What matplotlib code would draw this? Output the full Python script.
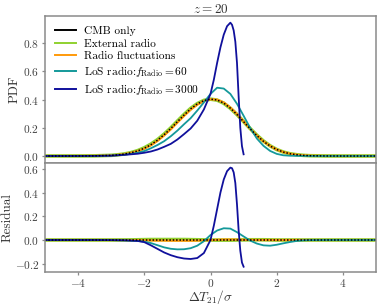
import numpy as np
import matplotlib
matplotlib.use("Agg")
import matplotlib.pyplot as plt
from matplotlib.lines import Line2D

plt.rcParams['font.family'] = 'serif'
plt.rcParams['font.serif'] = ['cmr10', 'DejaVu Serif']
plt.rcParams['mathtext.fontset'] = 'cm'
plt.rcParams['axes.formatter.use_mathtext'] = True

# valeurs
x = [-5, -4.5, -4, -3.5, -3.0, -2.8, -2.6, -2.4, -2.2, -2.0, -1.8, -1.6, -1.4, -1.2,
     -1.0, -0.8, -0.6, -0.4, -0.2, 0.0, 0.2, 0.4, 0.6, 0.8, 1.0, 1.2, 1.4, 1.6,
     1.8, 2.0, 2.2, 2.4, 2.6, 2.8, 3.0, 3.5, 4, 4.5, 5]

pdf_cmb = [0.0, 0.0001, 0.0003, 0.001, 0.0045, 0.008, 0.014, 0.023, 0.036, 0.055, 0.08,
           0.112, 0.151, 0.195, 0.243, 0.29, 0.334, 0.369, 0.393, 0.403, 0.397, 0.375,
           0.339, 0.294, 0.243, 0.192, 0.145, 0.104, 0.071, 0.046, 0.028, 0.016, 0.009,
           0.0045, 0.002, 0.0003, 0.0, 0.0, 0.0]
pdf_ext = [0.0, 0.0001, 0.0003, 0.001, 0.0046, 0.0083, 0.0145, 0.024, 0.038, 0.058, 0.084,
           0.116, 0.155, 0.199, 0.247, 0.294, 0.337, 0.371, 0.394, 0.403, 0.396, 0.374,
           0.338, 0.294, 0.244, 0.194, 0.147, 0.106, 0.072, 0.046, 0.028, 0.016, 0.009,
           0.0045, 0.002, 0.0003, 0.0, 0.0, 0.0]
pdf_fluc = [0.0, 0.0001, 0.0003, 0.001, 0.0044, 0.0078, 0.0135, 0.022, 0.034, 0.052, 0.076,
            0.107, 0.146, 0.189, 0.237, 0.284, 0.328, 0.364, 0.39, 0.402, 0.399, 0.379,
            0.343, 0.297, 0.245, 0.193, 0.145, 0.104, 0.071, 0.046, 0.028, 0.016, 0.009,
            0.0045, 0.002, 0.0003, 0.0, 0.0, 0.0]
pdf_los60 = [0.0, 0.0001, 0.0003, 0.001, 0.003, 0.006, 0.01, 0.015, 0.023, 0.035, 0.055,
             0.078, 0.105, 0.14, 0.18, 0.225, 0.268, 0.322, 0.38, 0.44, 0.484, 0.478,
             0.44, 0.37, 0.285, 0.198, 0.124, 0.072, 0.036, 0.015, 0.005, 0.002, 0.001,
             0.0005, 0.0, 0.0, 0.0, 0.0, 0.0]

res_ext = [0.0, 0.0, 0.0, 0.0, 0.0001, 0.0003, 0.0005, 0.001, 0.002, 0.003, 0.004,
           0.004, 0.004, 0.004, 0.004, 0.004, 0.003, 0.002, 0.001, 0.0, -0.001, -0.001,
           -0.001, 0.0, 0.001, 0.002, 0.002, 0.002, 0.001, 0.0, 0.0, 0.0, 0.0,
           0.0, 0.0, 0.0, 0.0, 0.0, 0.0]
res_fluc = [0.0, 0.0, 0.0, 0.0, -0.0001, -0.0002, -0.0005, -0.001, -0.002, -0.003, -0.004,
            -0.005, -0.005, -0.006, -0.006, -0.006, -0.006, -0.005, -0.003, -0.001, 0.002, 0.004,
            0.004, 0.003, 0.002, 0.001, 0.0, 0.0, 0.0, 0.0, 0.0, 0.0, 0.0,
            0.0, 0.0, 0.0, 0.0, 0.0, 0.0]
res_los60 = [0.0, 0.0, 0.0, 0.0, -0.001, -0.002, -0.003, -0.005, -0.008, -0.014, -0.026,
             -0.044, -0.062, -0.074, -0.079, -0.078, -0.069, -0.048, -0.01, 0.042, 0.08, 0.099,
             0.096, 0.066, 0.03, -0.005, -0.03, -0.045, -0.048, -0.04, -0.028, -0.017, -0.008,
             -0.003, -0.001, 0.0, 0.0, 0.0, 0.0]

# la courbe f_Radio = 3000 s'arrête vers 1
x_b = [-5, -4, -3.5, -3.0, -2.6, -2.2, -2.0, -1.8, -1.6, -1.4, -1.2, -1.0, -0.8, -0.6,
       -0.4, -0.2, 0.0, 0.1, 0.2, 0.3, 0.4, 0.5, 0.6, 0.65, 0.7, 0.75, 0.8, 0.85,
       0.9, 0.95, 1.0]
pdf_los3000 = [0.0, 0.0, 0.0005, 0.002, 0.008, 0.016, 0.023, 0.032, 0.046, 0.065, 0.086,
               0.117, 0.155, 0.195, 0.25, 0.33, 0.44, 0.54, 0.66, 0.77, 0.86, 0.92,
               0.945, 0.93, 0.89, 0.81, 0.66, 0.42, 0.2, 0.07, 0.012]
res_los3000 = [0.0, 0.0, 0.0, -0.001, -0.003, -0.008, -0.018, -0.045, -0.075, -0.105, -0.128,
               -0.145, -0.156, -0.16, -0.152, -0.11, 0.0, 0.12, 0.26, 0.4, 0.51, 0.58,
               0.61, 0.605, 0.57, 0.48, 0.3, 0.08, -0.09, -0.19, -0.225]

res_cmb = [0.0] * len(x)

c_ext = '#8fd12f'
c_fluc = '#ff9a0a'
c_60 = '#14999a'
c_3000 = '#10109c'
gris = '#8a8a8a'
texte = '#333333'

fig, (ax1, ax2) = plt.subplots(2, 1, figsize=(3.81, 3.08), dpi=100, sharex=True,
                               gridspec_kw={'height_ratios': [148, 110], 'hspace': 0})
fig.subplots_adjust(left=0.118, right=0.987, top=0.948, bottom=0.118)

ax1.plot(x, pdf_ext, color=c_ext, lw=2.6)
ax1.plot(x, pdf_fluc, color=c_fluc, lw=1.6)
ax1.plot(x, pdf_los60, color=c_60, lw=1.3)
ax1.plot(x_b, pdf_los3000, color=c_3000, lw=1.3)
ax1.plot(x, pdf_cmb, color='k', lw=1.1, ls=(0, (1, 1.2)))

ax2.plot(x, res_ext, color=c_ext, lw=2.6)
ax2.plot(x, res_fluc, color=c_fluc, lw=1.6)
ax2.plot(x, res_los60, color=c_60, lw=1.3)
ax2.plot(x_b, res_los3000, color=c_3000, lw=1.3)
ax2.plot(x, res_cmb, color='k', lw=1.1, ls=(0, (1, 1.2)))

handles = [Line2D([], [], color='k', lw=1.4),
           Line2D([], [], color=c_ext, lw=1.4),
           Line2D([], [], color=c_fluc, lw=1.4),
           Line2D([], [], color=c_60, lw=1.4),
           Line2D([], [], color=c_3000, lw=1.4)]
labels = ['CMB only', 'External radio', 'Radio fluctuations',
          r'LoS radio:$f_{\rm Radio}=60$', r'LoS radio:$f_{\rm Radio}=3000$']
ax1.legend(handles, labels, loc='upper left', frameon=False, fontsize=8.2,
           handlelength=1.9, handletextpad=0.7, labelspacing=0.25, borderaxespad=0.45)

ax1.set_xlim(-5, 5)
ax1.set_yticks([0.0, 0.2, 0.4, 0.6, 0.8])
ax2.set_yticks([-0.2, 0.0, 0.2, 0.4, 0.6])
ax2.set_xticks([-4, -2, 0, 2, 4])
ax1.set_title(r'$z=20$', fontsize=9.5, pad=2, color=texte)
ax1.set_ylabel('PDF', fontsize=9.5, color=texte, labelpad=2)
ax2.set_ylabel('Residual', fontsize=9.5, color=texte, labelpad=1)
ax2.set_xlabel(r'$\Delta T_{21}/\sigma$', fontsize=9.5, color=texte, labelpad=-1)

for ax in (ax1, ax2):
    for s in ax.spines.values():
        s.set_color(gris)
        s.set_linewidth(1.1)
    ax.tick_params(labelsize=8.2, colors=gris, labelcolor='#444444', width=0.9,
                   length=2.5, pad=1.5)
ax1.tick_params(bottom=False)

fig.savefig('out.png', dpi=100)
